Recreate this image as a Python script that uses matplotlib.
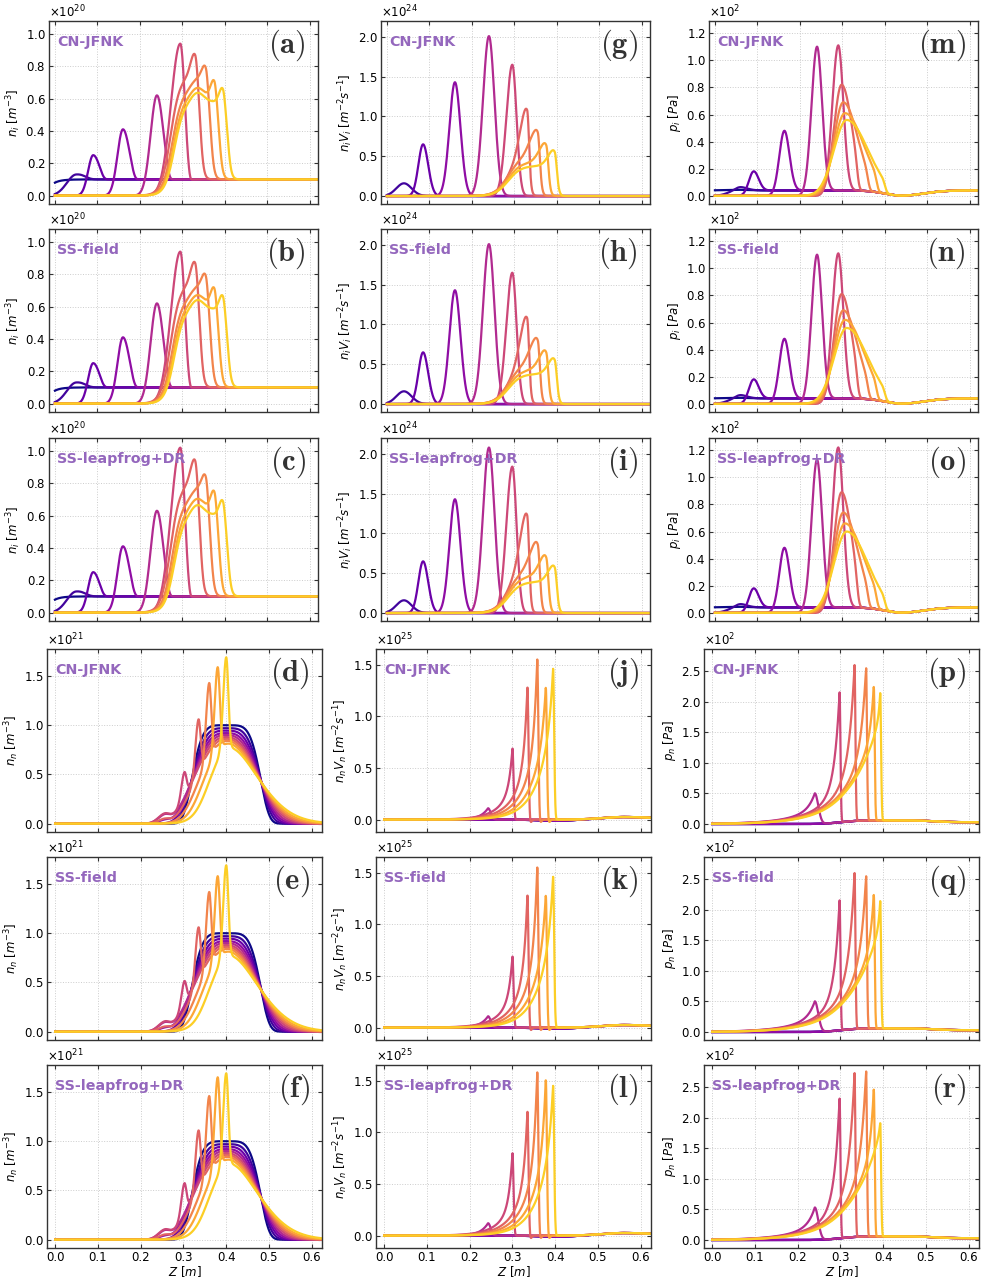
import numpy as np
import matplotlib.pyplot as plt

plt.rcParams["font.family"] = "DejaVu Sans"
plt.rcParams["font.size"] = 8.5

# snapshots of the ionization front, coloured early (dark) -> late (yellow)
n_frames = 10
colors = plt.cm.plasma(np.linspace(0.0, 0.9, n_frames))
methods = ["CN-JFNK", "SS-field", "SS-leapfrog+DR"]

z = np.linspace(0.0, 0.625, 1200)

# front location of each snapshot [m]
front_z = [0.0, 0.05, 0.09, 0.16, 0.24, 0.295, 0.33, 0.355, 0.375, 0.395]

# ---- ion density n_i  [x1e20 m^-3] ----
ni_peak = {
    "CN-JFNK":        [0.10, 0.13, 0.25, 0.41, 0.62, 0.94, 0.87, 0.79, 0.71, 0.66],
    "SS-field":       [0.10, 0.13, 0.25, 0.41, 0.62, 0.94, 0.87, 0.79, 0.715, 0.665],
    "SS-leapfrog+DR": [0.10, 0.13, 0.25, 0.41, 0.63, 1.02, 0.94, 0.84, 0.75, 0.69],
}
ni_body = [0, 0, 0, 0, 0, 0, 0.74, 0.65, 0.61, 0.58]
ni_hump = [0, 0, 0, 0, 0, 0, 0.03, 0.07, 0.06, 0.06]
ni_rise = [0, 0, 0, 0, 0, 0, 0.272, 0.276, 0.279, 0.281]
ni_sl = [0.02, 0.022, 0.012, 0.013, 0.015, 0.022, 0.010, 0.009, 0.008, 0.008]
ni_sr = [0.02, 0.03, 0.018, 0.017, 0.016, 0.011, 0.005, 0.005, 0.005, 0.005]

# ---- ion flux n_i V_i  [x1e24 m^-2 s^-1] ----
niv_peak = {
    "CN-JFNK":        [0.0, 0.16, 0.65, 1.43, 2.01, 1.65, 1.08, 0.80, 0.64, 0.55],
    "SS-field":       [0.0, 0.16, 0.65, 1.43, 2.01, 1.65, 1.08, 0.80, 0.65, 0.55],
    "SS-leapfrog+DR": [0.0, 0.16, 0.65, 1.43, 2.08, 1.84, 1.23, 0.86, 0.70, 0.57],
}
niv_pos = [0.0, 0.04, 0.085, 0.16, 0.24, 0.295, 0.33, 0.355, 0.375, 0.395]
niv_body = [0, 0, 0, 0, 0, 0, 0.50, 0.50, 0.43, 0.38]
niv_sl = [0.01, 0.018, 0.011, 0.013, 0.014, 0.014, 0.016, 0.018, 0.016, 0.015]
niv_sr = [0.01, 0.018, 0.012, 0.013, 0.013, 0.010, 0.004, 0.004, 0.004, 0.004]

# ---- ion pressure p_i  [x1e2 Pa] ----
pi_peak = {
    "CN-JFNK":        [0.045, 0.055, 0.18, 0.48, 1.10, 1.11, 0.82, 0.69, 0.61, 0.56],
    "SS-field":       [0.045, 0.055, 0.18, 0.48, 1.10, 1.11, 0.81, 0.69, 0.62, 0.56],
    "SS-leapfrog+DR": [0.045, 0.055, 0.18, 0.48, 1.13, 1.22, 0.89, 0.74, 0.66, 0.60],
}
pi_pos = [0.05, 0.05, 0.09, 0.163, 0.24, 0.29, 0.298, 0.302, 0.306, 0.31]
pi_sl = [0.03, 0.02, 0.011, 0.012, 0.013, 0.014, 0.018, 0.022, 0.026, 0.03]
pi_sr = [0.03, 0.02, 0.012, 0.012, 0.012, 0.012, 0.025, 0.035, 0.045, 0.05]

# ---- neutral density n_n  [x1e21 m^-3] ----
nn_peak = {
    "CN-JFNK":        [0, 0, 0, 0, 0, 0.52, 1.06, 1.43, 1.59, 1.69],
    "SS-field":       [0, 0, 0, 0, 0, 0.51, 1.06, 1.42, 1.58, 1.69],
    "SS-leapfrog+DR": [0, 0, 0, 0, 0, 0.57, 1.11, 1.46, 1.65, 1.69],
}
nn_pos = [0, 0, 0, 0, 0, 0.302, 0.335, 0.36, 0.38, 0.40]
nn_plateau = [1.0, 0.97, 0.945, 0.92, 0.90, 0.88, 0.865, 0.85, 0.835, 0.82]
nn_power = [5.0, 4.0, 3.4, 3.0, 2.7, 2.45, 2.25, 2.1, 1.95, 1.8]
nn_tail = [0, 0, 0, 0.03, 0.07, 0.08, 0.04, 0, 0, 0]

# ---- neutral flux n_n V_n  [x1e25 m^-2 s^-1] ----
nnv_peak = {
    "CN-JFNK":        [0, 0, 0, 0, 0.11, 0.69, 1.28, 1.55, 1.28, 1.46],
    "SS-field":       [0, 0, 0, 0, 0.11, 0.69, 1.28, 1.55, 1.28, 1.46],
    "SS-leapfrog+DR": [0, 0, 0, 0, 0.12, 0.80, 1.20, 1.58, 1.51, 1.45],
}
nnv_pos = [0, 0, 0, 0, 0.243, 0.30, 0.335, 0.358, 0.378, 0.395]
nnv_broad = [0, 0, 0, 0, 0.0, 0.30, 0.55, 0.75, 0.90, 1.05]

# ---- neutral pressure p_n  [x1e2 Pa] ----
pn_peak = {
    "CN-JFNK":        [0, 0, 0, 0, 0.50, 2.13, 2.55, 2.50, 2.19, 2.08],
    "SS-field":       [0, 0, 0, 0, 0.50, 2.13, 2.55, 2.50, 2.19, 2.08],
    "SS-leapfrog+DR": [0, 0, 0, 0, 0.53, 2.29, 2.68, 2.71, 2.41, 1.85],
}
pn_pos = [0, 0, 0, 0, 0.24, 0.298, 0.333, 0.36, 0.378, 0.393]
pn_broad = [0, 0, 0, 0, 0.25, 0.55, 0.85, 1.15, 1.45, 1.70]
pn_sharp = [0, 0, 0, 0, 0.015, 0.012, 0.013, 0.012, 0.008, 0.004]


def sig(x):
    return 0.5 * (1.0 + np.tanh(0.5 * x))


def bump(c, sl, sr):
    s = np.where(z < c, sl, sr)
    return np.exp(-0.5 * ((z - c) / s) ** 2)


def at(y, c):
    return y[np.argmin(np.abs(z - c))]


def ion_density(k, peak):
    c = front_z[k]
    if k == 0:
        return 0.1 - 0.02 * np.exp(-z / 0.015)
    if ni_body[k] == 0:
        # pulse riding on the step into the pre-ionized background
        bg = 0.1 * sig((z - c) / 0.006)
        pulse = peak[k] * bump(c, ni_sl[k], ni_sr[k])
        return (bg ** 4 + pulse ** 4) ** 0.25
    base = 0.1 * sig((z - c - 0.012) / 0.004)
    scale = peak[k] / ni_peak["CN-JFNK"][k]
    body = ni_body[k] * sig((z - ni_rise[k]) / 0.011) + ni_hump[k] * bump(0.335, 0.015, 0.015)
    base = base + scale * body * sig((c + 0.012 - z) / 0.004)
    return base + (peak[k] - at(base, c)) * bump(c, ni_sl[k], ni_sr[k])


def ion_flux(k, peak):
    c = niv_pos[k]
    base = np.zeros_like(z)
    if niv_body[k] > 0:
        scale = peak[k] / niv_peak["CN-JFNK"][k]
        base = scale * niv_body[k] * sig((z - 0.285) / 0.015) * sig((c + 0.006 - z) / 0.003)
    return base + (peak[k] - at(base, c)) * bump(c, niv_sl[k], niv_sr[k])


def ion_pressure(k, peak):
    c = pi_pos[k]
    edge = front_z[k] if k > 0 else -1.0
    base = 0.04 * sig((z - edge) / 0.006) * (1 - 0.95 * bump(0.44, 0.04, 0.05))
    y = base + (peak[k] - at(base, c)) * bump(c, pi_sl[k], pi_sr[k])
    if k >= 6:
        cut = sig((front_z[k] + 0.006 - z) / 0.003)
        y = base + (y - base) * cut
    return y


def neutral_density(k, peak):
    P, m = nn_plateau[k], nn_power[k]
    w = 0.082 / (np.log(P / 0.42) / np.log(2)) ** (1.0 / m)
    base = P * np.exp(-np.log(2) * (np.abs(z - 0.40) / w) ** m)
    if peak[k] > 0:
        c = nn_pos[k]
        base = base * sig((z - (c - 0.05)) / 0.02)
    base = base + nn_tail[k] * bump(0.255, 0.015, 0.012)
    if peak[k] > 0:
        base = base + (peak[k] - at(base, c)) * bump(c, 0.007, 0.005)
    return base


def neutral_flux(k, peak):
    y = 0.025 * bump(0.56, 0.05, 0.08)
    if k <= 3:
        return y - 0.012 * bump(0.40, 0.04, 0.04)
    c = nnv_pos[k]
    if k == 4:
        shape = np.where(z < c, np.exp((z - c) / 0.018), np.exp(-0.5 * ((z - c) / 0.006) ** 2))
        return y + peak[k] * shape
    B = nnv_broad[k]
    left = B * np.exp((z - c) / 0.035) + (peak[k] - B) * np.exp((z - c) / 0.008)
    shape = np.where(z < c, left, peak[k] * np.exp(-0.5 * ((z - c) / 0.0025) ** 2))
    y = y + shape
    if 6 <= k <= 8:
        y = y - 0.03 * bump(c + 0.007, 0.002, 0.003)
    return y


def neutral_pressure(k, peak):
    y = 0.06 * sig((z - 0.30) / 0.02) - 0.03 * sig((z - 0.52) / 0.02)
    if k <= 3:
        return y
    c = pn_pos[k]
    B = pn_broad[k]
    sr = 0.008 if k == 4 else 0.002
    left = B * np.exp((z - c) / 0.065) + (peak[k] - B) * np.exp((z - c) / pn_sharp[k])
    shape = np.where(z < c, left, peak[k] * np.exp(-0.5 * ((z - c) / sr) ** 2))
    return np.maximum(y, 0.0) + shape


rows = [
    (ion_density, ni_peak, 1e20, r"$n_i\ [m^{-3}]$", 0.2, (-0.052, 1.08)),
    (ion_flux, niv_peak, 1e24, r"$n_iV_i\ [m^{-2}s^{-1}]$", 0.5, (-0.10, 2.20)),
    (ion_pressure, pi_peak, 1e2, r"$p_i\ [Pa]$", 0.2, (-0.06, 1.29)),
    (neutral_density, nn_peak, 1e21, r"$n_n\ [m^{-3}]$", 0.5, (-0.085, 1.775)),
    (neutral_flux, nnv_peak, 1e25, r"$n_nV_n\ [m^{-2}s^{-1}]$", 0.5, (-0.12, 1.65)),
    (neutral_pressure, pn_peak, 1e2, r"$p_n\ [Pa]$", 0.5, (-0.13, 2.86)),
]

W, H = 981, 1278
fig = plt.figure(figsize=(W / 100, H / 100), dpi=100)

letters = "abcdefghijklmnopqr"
ion_lefts, ion_w = [49, 381, 709], 269
neu_lefts, neu_w = [47, 376, 704], 275
tops = [21, 229, 438, 649, 857, 1065]
ph = 183

for q, (func, peaks, unit, ylabel, ystep, ylim) in enumerate(rows):
    ion = q < 3
    col = q % 3
    for m, method in enumerate(methods):
        r = (0 if ion else 3) + m
        left = (ion_lefts if ion else neu_lefts)[col]
        width = ion_w if ion else neu_w
        ax = fig.add_axes([left / W, 1 - (tops[r] + ph) / H, width / W, ph / H])

        for k in range(n_frames):
            ax.plot(z, func(k, peaks[method]) * unit, color=colors[k], lw=1.6)

        ax.set_xlim(-0.014 if ion else -0.019, 0.619 if ion else 0.624)
        ax.set_ylim(ylim[0] * unit, ylim[1] * unit)
        ax.set_xticks(np.arange(0, 0.61, 0.1))
        ax.set_yticks(np.arange(0, ylim[1], ystep) * unit)
        ax.ticklabel_format(axis="y", style="sci", scilimits=(0, 0), useMathText=True)
        ax.yaxis.get_offset_text().set_fontsize(8.5)
        ax.grid(True, color="#cccccc", lw=0.7, ls=":")
        for s in ax.spines.values():
            s.set_color("#333333")
            s.set_linewidth(1.0)
        ax.tick_params(direction="in", labelsize=8.5, length=3, pad=2.5,
                       color="#333333", top=True, right=True)
        ax.set_ylabel(ylabel, fontsize=8.5, labelpad=2)
        if r == 5:
            ax.set_xlabel(r"$Z\ [m]$", fontsize=8.5, labelpad=0)
        else:
            ax.tick_params(labelbottom=False)

        ax.text(0.03, 0.885, method, transform=ax.transAxes, color="#9467bd",
                fontsize=10.3, fontweight="bold", va="center", ha="left")
        ax.text(0.955, 0.865, r"$\mathbf{(%s)}$" % letters[col * 6 + r],
                transform=ax.transAxes, fontsize=22, color="#333333",
                ha="right", va="center", math_fontfamily="cm")

fig.savefig("out.png", dpi=100)
